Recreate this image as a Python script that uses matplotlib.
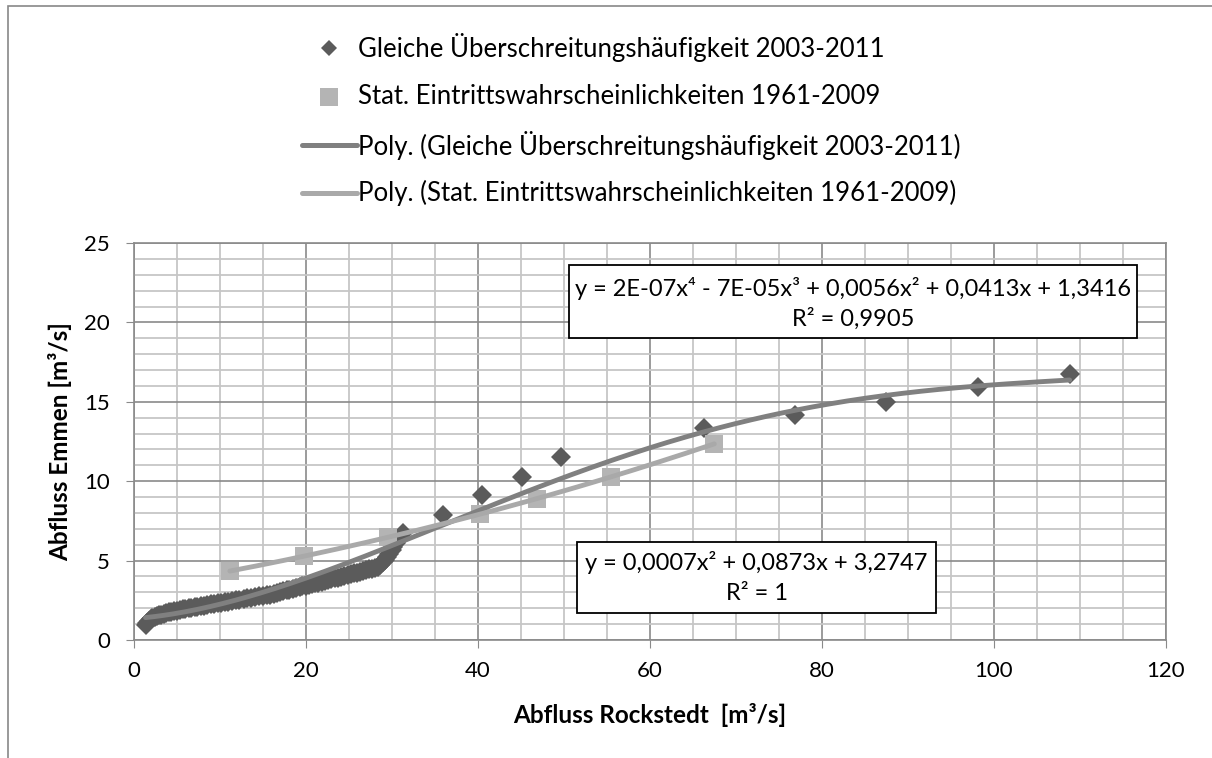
import numpy as np
import matplotlib
matplotlib.use("Agg")
import matplotlib.pyplot as plt
from matplotlib.lines import Line2D
from matplotlib.patches import Rectangle
from matplotlib.ticker import MultipleLocator

plt.rcParams['font.family'] = ['Lato', 'DejaVu Sans']

# Abfluss Rockstedt / Emmen, gleiche Überschreitungshäufigkeit 2003-2011
x_gleich = [1.4, 1.6, 1.8, 2.0, 2.2, 2.5, 2.7, 3.0, 3.2, 3.5, 3.8, 4.1, 4.4, 4.7, 5.0,
            5.4, 5.7, 6.0, 6.4, 6.7, 7.1, 7.4, 7.8, 8.2, 8.6, 9.0, 9.4, 9.8, 10.2,
            10.6, 11.0, 11.5, 11.9, 12.3, 12.8, 13.2, 13.7, 14.1, 14.6, 15.0, 15.5,
            15.9, 16.3, 16.7, 17.0, 17.4, 17.8, 18.1, 18.5, 18.9, 19.3, 19.6, 20.0,
            20.4, 20.8, 21.1, 21.5, 21.9, 22.3, 22.6, 23.0, 23.4, 23.8, 24.1, 24.5,
            24.9, 25.3, 25.6, 26.0, 26.3, 26.7, 27.0, 27.4, 27.7, 28.1, 28.4, 28.7,
            29.0, 29.2, 29.5, 29.7, 30.0, 30.2, 30.5, 30.7,
            31.3, 36.0, 40.5, 45.2, 49.7, 66.3, 76.9, 87.5, 98.2, 108.8]
y_gleich = [0.95, 1.08, 1.20, 1.30, 1.38, 1.45, 1.50, 1.56, 1.60, 1.65, 1.70, 1.74, 1.78, 1.82, 1.85,
            1.90, 1.93, 1.96, 2.00, 2.03, 2.07, 2.10, 2.14, 2.17, 2.21, 2.25, 2.28, 2.32, 2.35,
            2.39, 2.42, 2.46, 2.50, 2.54, 2.58, 2.62, 2.66, 2.70, 2.74, 2.78, 2.82,
            2.86, 2.90, 2.95, 3.00, 3.06, 3.12, 3.17, 3.22, 3.28, 3.33, 3.37, 3.42,
            3.48, 3.53, 3.57, 3.62, 3.68, 3.73, 3.77, 3.82, 3.88, 3.93, 3.98, 4.03,
            4.09, 4.14, 4.19, 4.24, 4.29, 4.35, 4.40, 4.45, 4.50, 4.55, 4.62, 4.75,
            4.90, 5.05, 5.25, 5.40, 5.65, 5.85, 6.10, 6.30,
            6.75, 7.85, 9.10, 10.25, 11.50, 13.35, 14.20, 15.00, 15.95, 16.75]

# statistische Eintrittswahrscheinlichkeiten 1961-2009
x_stat = [11.2, 19.8, 29.6, 40.3, 46.9, 55.5, 67.5]
y_stat = [4.34, 5.28, 6.47, 7.93, 8.90, 10.28, 12.35]

# polynomial trend 4th order (coefficients x^4 .. x^0, unrounded)
coef_gleich = [2.4e-07, -6.94e-05, 0.0056, 0.0413, 1.3416]

label_gleich = 'Gleiche Überschreitungshäufigkeit 2003-2011'
label_stat = 'Stat. Eintrittswahrscheinlichkeiten 1961-2009'
eq_gleich = 'y = 2E-07x⁴ - 7E-05x³ + 0,0056x² + 0,0413x + 1,3416'
r2_gleich = 'R² = 0,9905'
eq_stat = 'y = 0,0007x² + 0,0873x + 3,2747'
r2_stat = 'R² = 1'

c_dark = '#5b5b5b'
c_dark_trend = '#808080'
c_light = '#b4b4b4'
c_light_trend = '#a9a9a9'
c_grid_major = '#8a8a8a'
c_grid_minor = '#c6c6c6'

W, H = 1212, 758
fig = plt.figure(figsize=(W / 100, H / 100), dpi=100)
ax = fig.add_axes([133.5 / W, 1 - 640 / H, (1166 - 133.5) / W, (640 - 243) / H])

# trend lines
xs4 = np.linspace(min(x_gleich), max(x_gleich), 300)
p2 = np.polyfit(x_stat, y_stat, 2)
xs2 = np.linspace(min(x_stat), max(x_stat), 200)

ax.plot(x_gleich, y_gleich, 'D', color=c_dark, ms=9.8, mew=0, zorder=3)
ax.plot(x_stat, y_stat, 's', color=c_light, ms=13.5, mew=0, zorder=3)
ax.plot(xs4, np.polyval(coef_gleich, xs4), color=c_dark_trend, lw=3.5, zorder=4,
        solid_capstyle='round')
ax.plot(xs2, np.polyval(p2, xs2), color=c_light_trend, lw=3.5, zorder=5,
        solid_capstyle='round')

ax.set_xlim(0, 120)
ax.set_ylim(0, 25)
ax.xaxis.set_major_locator(MultipleLocator(20))
ax.xaxis.set_minor_locator(MultipleLocator(5))
ax.yaxis.set_major_locator(MultipleLocator(5))
ax.yaxis.set_minor_locator(MultipleLocator(1))
ax.grid(which='minor', color=c_grid_minor, lw=1.3, zorder=0)
ax.grid(which='major', color=c_grid_major, lw=1.2, zorder=1)
ax.set_axisbelow(True)
for s in ax.spines.values():
    s.set_color(c_grid_major)
    s.set_linewidth(1.2)
ax.tick_params(which='major', direction='out', length=6, color=c_grid_major,
               labelsize=16)
ax.tick_params(axis='y', pad=11)
ax.tick_params(axis='x', pad=9)
ax.tick_params(which='minor', length=0)


def fx(px):
    return px / W


def fy(py):
    return 1 - py / H


# axis titles
fig.text(fx(650), fy(715), 'Abfluss Rockstedt  [m³/s]', fontsize=17.5, fontweight='bold',
         ha='center', va='center')
fig.text(fx(60), fy(441.5), 'Abfluss Emmen [m³/s]', fontsize=17.5, fontweight='bold',
         ha='center', va='center', rotation=90)

# legend drawn at the top of the chart area
leg_fs = 18.5
fig.add_artist(Line2D([fx(329)], [fy(48)], marker='D', color=c_dark, ms=8.6, mew=0,
                      transform=fig.transFigure))
fig.text(fx(358), fy(48), label_gleich, fontsize=leg_fs, va='center')
fig.add_artist(Line2D([fx(329)], [fy(97)], marker='s', color=c_light, ms=13, mew=0,
                      transform=fig.transFigure))
fig.text(fx(358), fy(97), label_stat, fontsize=leg_fs, va='center')
fig.add_artist(Line2D([fx(302), fx(357)], [fy(145), fy(145)], color=c_dark_trend, lw=3.6,
                      transform=fig.transFigure, solid_capstyle='round'))
fig.text(fx(358), fy(145), 'Poly. (' + label_gleich + ')', fontsize=leg_fs, va='center')
fig.add_artist(Line2D([fx(302), fx(357)], [fy(193), fy(193)], color=c_light_trend, lw=3.6,
                      transform=fig.transFigure, solid_capstyle='round'))
fig.text(fx(358), fy(193), 'Poly. (' + label_stat + ')', fontsize=leg_fs, va='center')

# trend line equation boxes
eq_fs = 17
fig.add_artist(Rectangle((fx(569), fy(338)), fx(1137) - fx(569), fy(265) - fy(338),
                         transform=fig.transFigure, fc='white', ec='black', lw=1.3, zorder=6))
fig.text(fx(853), fy(289), eq_gleich, fontsize=eq_fs, ha='center', va='center', zorder=7)
fig.text(fx(853), fy(319), r2_gleich, fontsize=eq_fs, ha='center', va='center', zorder=7)
fig.add_artist(Rectangle((fx(577), fy(613)), fx(936) - fx(577), fy(542) - fy(613),
                         transform=fig.transFigure, fc='white', ec='black', lw=1.3, zorder=6))
fig.text(fx(756.5), fy(563), eq_stat, fontsize=eq_fs, ha='center', va='center', zorder=7)
fig.text(fx(756.5), fy(594), r2_stat, fontsize=eq_fs, ha='center', va='center', zorder=7)

# outer chart frame
fig.add_artist(Rectangle((fx(7.5), -0.1), 1.2, fy(5.5) + 0.1, transform=fig.transFigure,
                         fill=False, ec='#888888', lw=1.2))

fig.savefig('out.png', dpi=100)
